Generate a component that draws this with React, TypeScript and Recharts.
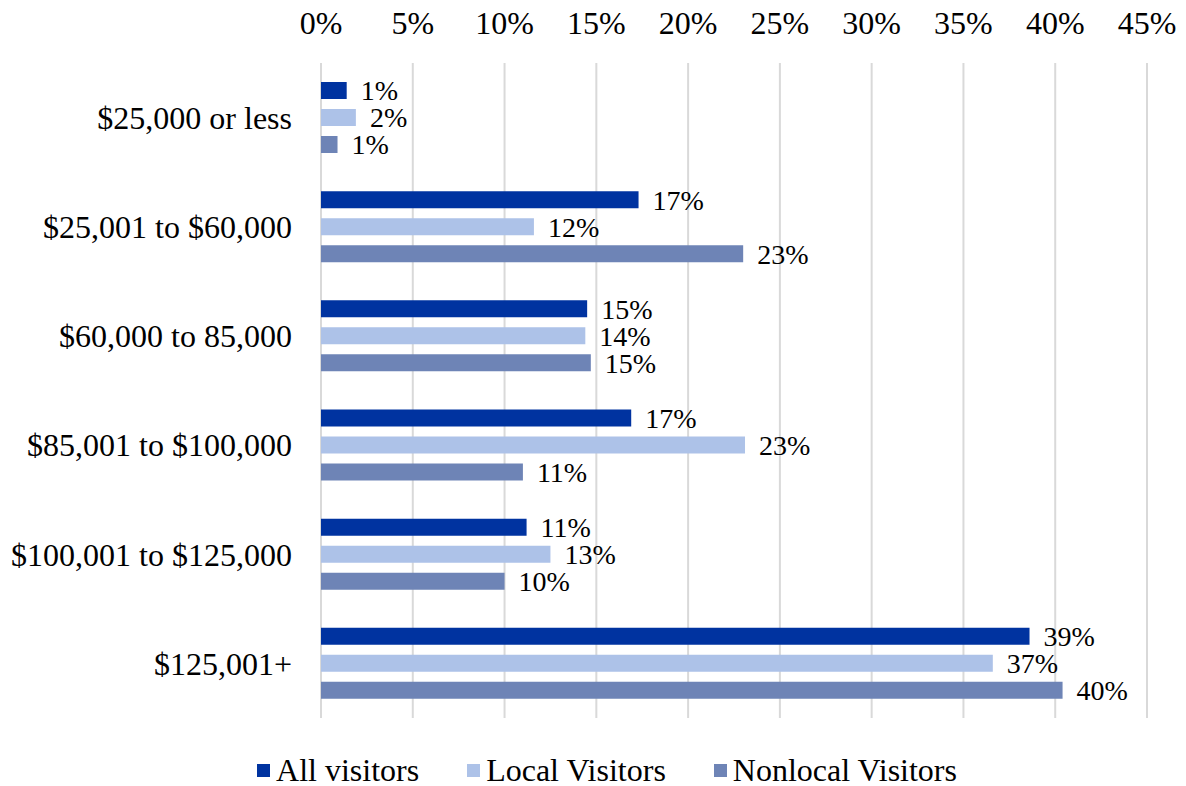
import React from 'react';
import { BarChart, Bar, XAxis, YAxis, CartesianGrid, Legend, LabelList } from 'recharts';

const categories = [
  '$25,000 or less',
  '$25,001 to $60,000',
  '$60,000 to 85,000',
  '$85,001 to $100,000',
  '$100,001 to $125,000',
  '$125,001+',
];
const allVisitors = [1.4, 17.3, 14.5, 16.9, 11.2, 38.6];
const localVisitors = [1.9, 11.6, 14.4, 23.1, 12.5, 36.6];
const nonlocalVisitors = [0.9, 23.0, 14.7, 11.0, 10.0, 40.4];
const percentTicks = [0, 5, 10, 15, 20, 25, 30, 35, 40, 45];

const series = [
  { key: 'all', name: 'All visitors', color: '#0033a0' },
  { key: 'local', name: 'Local Visitors', color: '#adc2e8' },
  { key: 'nonlocal', name: 'Nonlocal Visitors', color: '#6e84b6' },
];

const data = categories.map((name, i) => ({
  name,
  all: allVisitors[i],
  local: localVisitors[i],
  nonlocal: nonlocalVisitors[i],
}));

const FONT = "'Liberation Serif', 'Times New Roman', serif";

const renderLegend = () => (
  <div
    style={{
      height: 68,
      boxSizing: 'border-box',
      paddingTop: 36,
      paddingLeft: 28,
      display: 'flex',
      justifyContent: 'center',
      alignItems: 'center',
      fontFamily: FONT,
      fontSize: 32,
      lineHeight: '32px',
      color: '#000',
    }}
  >
    {series.map((s, i) => (
      <div key={s.key} style={{ display: 'flex', alignItems: 'center', marginLeft: i === 0 ? 0 : 48 }}>
        <span style={{ width: 13, height: 13, background: s.color, marginRight: 6, display: 'inline-block' }} />
        <span>{s.name}</span>
      </div>
    ))}
  </div>
);

export default function App() {
  return (
    <div style={{ position: 'absolute', left: 0, top: 0, fontFamily: FONT, background: '#fff' }}>
      <BarChart
        width={1186}
        height={786}
        data={data}
        layout="vertical"
        margin={{ top: 0, right: 39, bottom: 0, left: 0 }}
        barSize={17}
        barGap={10}
        style={{ fontFamily: FONT }}
      >
        <CartesianGrid horizontal={false} stroke="#d9d9d9" strokeWidth={2} />
        <XAxis
          type="number"
          orientation="top"
          domain={[0, 45]}
          ticks={percentTicks}
          tickFormatter={(v: number) => `${v}%`}
          axisLine={false}
          tickLine={false}
          tickSize={0}
          tickMargin={29}
          height={63}
          interval={0}
          tick={{ fill: '#000', fontSize: 32, fontFamily: FONT }}
        />
        <YAxis
          type="category"
          dataKey="name"
          width={321}
          axisLine={false}
          tickLine={false}
          tickSize={0}
          tickMargin={29}
          interval={0}
          tick={{ fill: '#000', fontSize: 32, fontFamily: FONT }}
        />
        <Legend verticalAlign="bottom" content={renderLegend} wrapperStyle={{ left: 0, width: 1186 }} />
        {series.map((s) => (
          <Bar key={s.key} dataKey={s.key} name={s.name} fill={s.color} isAnimationActive={false}>
            <LabelList
              dataKey={s.key}
              position="right"
              offset={14}
              formatter={(v: number) => `${Math.round(v)}%`}
              fill="#000"
              fontSize={28}
              fontFamily={FONT}
            />
          </Bar>
        ))}
      </BarChart>
    </div>
  );
}
